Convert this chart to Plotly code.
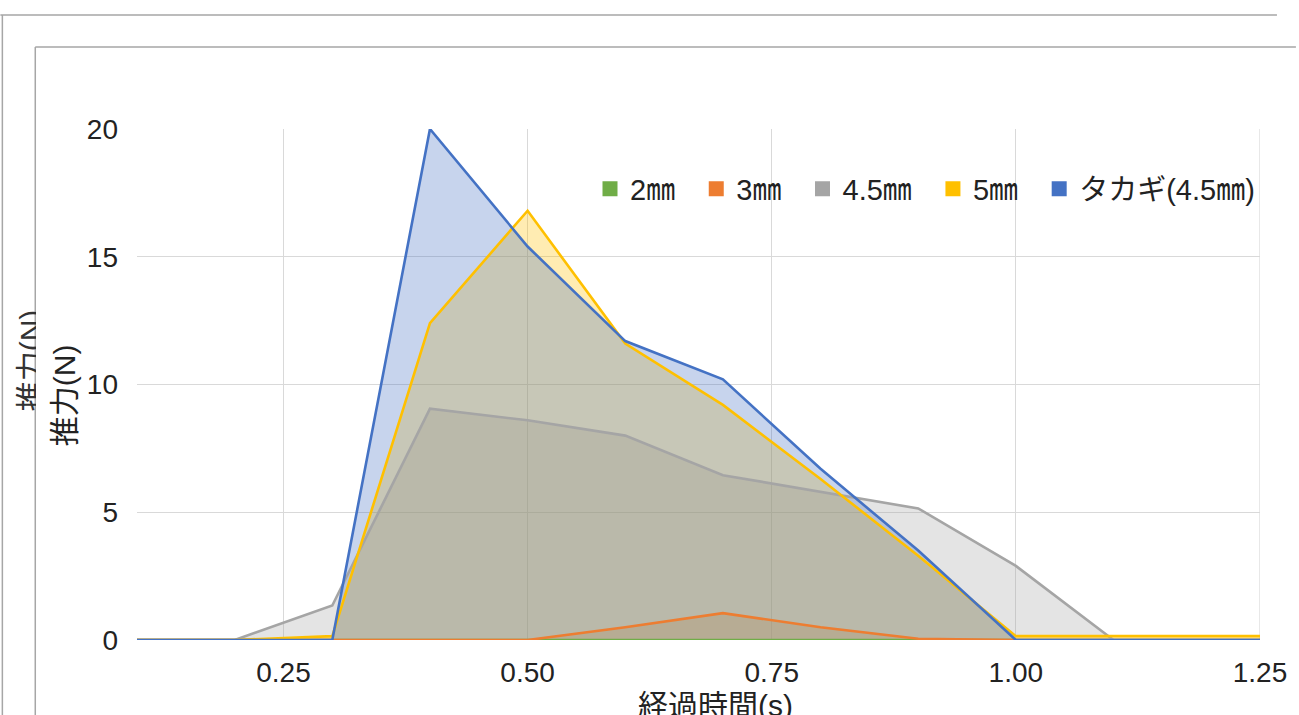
import plotly.graph_objects as go

# Elapsed time (s) and thrust (N) for each nozzle
time_s = [0.1, 0.2, 0.3, 0.4, 0.5, 0.6, 0.7, 0.8, 0.9, 1.0, 1.1, 1.2, 1.3]
thrust_2mm = [0, 0, 0, 0, 0, 0, 0, 0, 0, 0, 0, 0, 0]
thrust_3mm = [0, 0, 0, 0, 0, 0.5, 1.05, 0.5, 0.05, 0, 0, 0, 0]
thrust_45mm = [0, 0, 1.35, 9.05, 8.6, 8.0, 6.45, 5.8, 5.15, 2.9, 0, 0, 0]
thrust_5mm = [0, 0, 0.15, 12.4, 16.8, 11.6, 9.2, 6.3, 3.3, 0.15, 0.15, 0.15, 0.15]
thrust_takagi = [0, 0, 0, 20.0, 15.4, 11.7, 10.2, 6.7, 3.5, 0, 0, 0, 0]

series_names = ["2㎜", "3㎜", "4.5㎜", "5㎜", "タカギ(4.5㎜)"]
series_values = [thrust_2mm, thrust_3mm, thrust_45mm, thrust_5mm, thrust_takagi]
series_colors = ["#70AD47", "#ED7D31", "#A5A5A5", "#FFC000", "#4472C4"]

x_ticks = [0.25, 0.5, 0.75, 1.0, 1.25]
x_ticktext = ["0.25", "0.50", "0.75", "1.00", "1.25"]
y_ticks = [0, 5, 10, 15, 20]

FONT = "Liberation Sans, Arial, Noto Sans CJK JP, sans-serif"
W, H = 1299, 715
L, R, T, B = 137, 36, 129, 75


def rgba(hex_color, a):
    h = hex_color.lstrip("#")
    r, g, b = int(h[0:2], 16), int(h[2:4], 16), int(h[4:6], 16)
    return f"rgba({r},{g},{b},{a})"


def px(xp):
    return (xp - L) / (W - L - R)


def py(yp):
    return (H - B - yp) / (H - T - B)


fig = go.Figure()

# translucent areas first
for name, vals, col in zip(series_names, series_values, series_colors):
    fig.add_trace(go.Scatter(
        x=time_s, y=vals, mode="lines", name=name,
        line=dict(color=col, width=0),
        fill="tozeroy", fillcolor=rgba(col, 0.3),
        showlegend=False, hoverinfo="skip",
    ))

# outlines drawn over all areas
for name, vals, col in zip(series_names, series_values, series_colors):
    fig.add_trace(go.Scatter(
        x=time_s, y=vals, mode="lines", name=name,
        line=dict(color=col, width=2.6),
        showlegend=False,
    ))

# square swatches for the legend (trailing spaces widen the gap between entries)
for i, (name, col) in enumerate(zip(series_names, series_colors)):
    label = name if i == len(series_names) - 1 else name + "\u00a0\u00a0"
    fig.add_trace(go.Scatter(
        x=[None], y=[None], mode="markers", name=label,
        marker=dict(symbol="square", size=15, color=col),
        showlegend=True,
    ))

frame = dict(color="#a6a6a6", width=1.5)
shapes = [
    dict(type="line", xref="paper", yref="paper", x0=px(0), x1=px(1280), y0=py(15), y1=py(15), line=frame),
    dict(type="line", xref="paper", yref="paper", x0=px(2), x1=px(2), y0=py(15), y1=py(H), line=frame),
    dict(type="line", xref="paper", yref="paper", x0=px(35), x1=px(W), y0=py(47), y1=py(47), line=frame),
    dict(type="line", xref="paper", yref="paper", x0=px(35), x1=px(35), y0=py(47), y1=py(H), line=frame),
    # grid line at the right end of the time axis
    dict(type="line", xref="x", yref="paper", x0=1.25, x1=1.25, y0=0, y1=1,
         line=dict(color="#d9d9d9", width=1.2), layer="below"),
]

annotations = [
    # faint duplicate of the axis title behind the inner frame
    dict(text="推力(N)", textangle=-90, xref="paper", yref="paper",
         x=px(30), y=py(360), xanchor="center", yanchor="middle", showarrow=False,
         font=dict(family=FONT, size=30, color="#333333")),
    dict(text=" ", xref="paper", yref="paper", x=px(42), y=py(360),
         xanchor="center", yanchor="middle", showarrow=False,
         width=12, height=170, bgcolor="white", borderpad=0, borderwidth=0),
    dict(text="推力(N)", textangle=-90, xref="paper", yref="paper",
         x=px(64), y=py(395), xanchor="center", yanchor="middle", showarrow=False,
         font=dict(family=FONT, size=30, color="#222222")),
    dict(text="経過時間(s)", xref="paper", yref="paper",
         x=px(717), y=py(706), xanchor="center", yanchor="middle", showarrow=False,
         font=dict(family=FONT, size=30, color="#222222")),
]

fig.update_layout(
    width=W, height=H,
    margin=dict(l=L, r=R, t=T, b=B),
    paper_bgcolor="white", plot_bgcolor="white",
    font=dict(family=FONT, color="#222222"),
    shapes=shapes,
    annotations=annotations,
    legend=dict(
        orientation="h", x=1.0, xanchor="right", y=py(189), yanchor="middle",
        font=dict(family=FONT, size=29, color="#222222"),
        bgcolor="rgba(0,0,0,0)", itemwidth=30, tracegroupgap=0,
    ),
    xaxis=dict(
        range=[0.1, 1.25], tickvals=x_ticks, ticktext=x_ticktext,
        showgrid=True, gridcolor="#d9d9d9", gridwidth=1.2, zeroline=False, showline=False,
        ticks="", tickfont=dict(family=FONT, size=28, color="#222222"),
        ticklabelstandoff=13,
    ),
    yaxis=dict(
        range=[0, 20], tickvals=y_ticks,
        showgrid=True, gridcolor="#d9d9d9", gridwidth=1.2, zeroline=False, showline=False,
        ticks="", tickfont=dict(family=FONT, size=28, color="#222222"),
        ticklabelstandoff=18,
    ),
)

fig.write_html("out.html")
